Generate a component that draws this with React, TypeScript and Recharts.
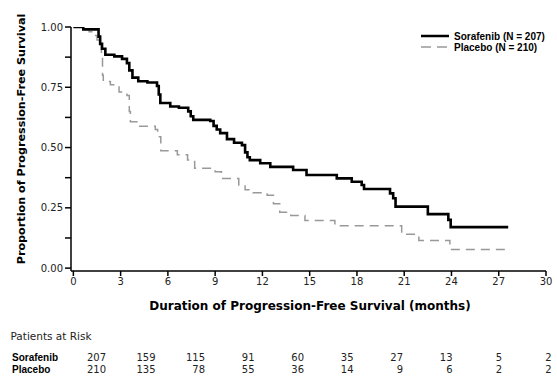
import React from 'react';
import { LineChart, Line, XAxis, YAxis } from 'recharts';

const sorafenibMonths = [0, 0.63, 1.6, 1.7, 1.82, 2.03, 2.6, 3.09, 3.4, 3.55, 3.75, 4.12, 4.7, 5.31, 5.42, 5.52, 6.15, 6.7, 7.29, 7.45, 7.61, 8.69, 8.9, 9.1, 9.32, 9.75, 10.2, 10.7, 10.9, 11.05, 11.2, 11.86, 12.5, 13.95, 14.8, 16.72, 17.67, 18.3, 18.45, 20.1, 20.3, 20.45, 22.5, 23.8, 23.95, 27.6];
const sorafenibSurvival = [1.0, 0.99, 0.96, 0.93, 0.91, 0.885, 0.878, 0.868, 0.85, 0.82, 0.79, 0.775, 0.77, 0.755, 0.72, 0.685, 0.67, 0.665, 0.65, 0.63, 0.615, 0.61, 0.59, 0.575, 0.56, 0.535, 0.52, 0.51, 0.48, 0.46, 0.448, 0.435, 0.42, 0.407, 0.386, 0.372, 0.358, 0.345, 0.328, 0.31, 0.29, 0.255, 0.224, 0.2, 0.17, 0.17];

const placeboMonths = [0, 0.63, 1.0, 1.3, 1.5, 1.78, 1.85, 1.9, 2.35, 2.9, 3.4, 3.55, 3.62, 4.15, 5.2, 5.35, 5.55, 6.6, 7.25, 7.7, 9.0, 9.4, 10.5, 10.9, 11.4, 12.3, 12.7, 13.1, 13.8, 14.7, 16.6, 20.84, 21.93, 23.9, 27.65];
const placeboSurvival = [1.0, 0.99, 0.98, 0.965, 0.946, 0.88, 0.8, 0.774, 0.76, 0.73, 0.716, 0.65, 0.607, 0.588, 0.575, 0.545, 0.487, 0.47, 0.448, 0.414, 0.4, 0.372, 0.345, 0.325, 0.313, 0.302, 0.267, 0.232, 0.218, 0.197, 0.176, 0.14, 0.115, 0.077, 0.077];

const seriesNames = ['Sorafenib (N = 207)', 'Placebo (N = 210)'];
const xTickMonths = [0, 3, 6, 9, 12, 15, 18, 21, 24, 27, 30];
const yTickValues = [0, 0.125, 0.25, 0.375, 0.5, 0.625, 0.75, 0.875, 1];
const yLabeledTicks = [0, 0.25, 0.5, 0.75, 1];
const xTitle = 'Duration of Progression-Free Survival (months)';
const yTitle = 'Proportion of Progression-Free Survival';
const riskTitle = 'Patients at Risk';
const riskRowLabels = ['Sorafenib', 'Placebo'];
const sorafenibAtRisk = [207, 159, 115, 91, 60, 35, 27, 13, 5, 2];
const placeboAtRisk = [210, 135, 78, 55, 36, 14, 9, 6, 2, 2];

const sorafenibData = sorafenibMonths.map((t, i) => ({ t, s: sorafenibSurvival[i] }));
const placeboData = placeboMonths.map((t, i) => ({ t, s: placeboSurvival[i] }));

const tickFont = { fontFamily: 'DejaVu Sans', fontSize: 10, fill: '#222' };
const boldArial = 'Liberation Sans, Arial, sans-serif';

const colRight = (k: number) => 106 + 49.5 * k;

export default function App() {
  return (
    <div style={{ position: 'absolute', left: 0, top: 0, width: 557, height: 382, background: '#fff' }}>
      <LineChart width={557} height={382} margin={{ top: 27, right: 11, bottom: 80, left: 0 }}>
        <XAxis
          type="number"
          dataKey="t"
          domain={[-0.15, 30]}
          ticks={xTickMonths}
          allowDataOverflow
          tick={tickFont}
          tickLine={{ stroke: '#000', strokeWidth: 1.5 }}
          axisLine={{ stroke: '#000', strokeWidth: 1.5 }}
          tickSize={5}
          height={31}
          label={{
            content: () => (
              <text x={310} y={310} textAnchor="middle" fontFamily="DejaVu Sans" fontWeight="bold" fontSize={12} fill="#000">{xTitle}</text>
            ),
          }}
        />
        <YAxis
          type="number"
          dataKey="s"
          domain={[-0.012, 1]}
          ticks={yTickValues}
          allowDataOverflow
          interval={0}
          width={71}
          tick={tickFont}
          tickFormatter={(v: number) => (yLabeledTicks.includes(v) ? v.toFixed(2) : '')}
          tickLine={{ stroke: '#000', strokeWidth: 1.5 }}
          axisLine={{ stroke: '#000', strokeWidth: 1.5 }}
          tickSize={6}
          label={{
            content: () => (
              <text x={25} y={139} transform="rotate(-90 25 139)" textAnchor="middle" fontFamily="DejaVu Sans" fontWeight="bold" fontSize={11.2} fill="#000">{yTitle}</text>
            ),
          }}
        />
        <Line data={placeboData} dataKey="s" type="stepAfter" stroke="#999" strokeWidth={1.5} strokeDasharray="9 6" dot={false} isAnimationActive={false} name={seriesNames[1]} />
        <Line data={sorafenibData} dataKey="s" type="stepAfter" stroke="#000" strokeWidth={2.6} dot={false} isAnimationActive={false} name={seriesNames[0]} />
      </LineChart>
      <svg width={140} height={26} style={{ position: 'absolute', left: 418, top: 28 }}>
        <line x1={3} x2={31} y1={8} y2={8} stroke="#000" strokeWidth={2.5} />
        <text x={36} y={11.5} fontFamily={boldArial} fontWeight="bold" fontSize={10} fill="#000">{seriesNames[0]}</text>
        <line x1={3} x2={31} y1={19} y2={19} stroke="#999" strokeWidth={1.5} strokeDasharray="10 6" />
        <text x={36} y={22.5} fontFamily={boldArial} fontWeight="bold" fontSize={10} fill="#000">{seriesNames[1]}</text>
      </svg>
      <svg width={557} height={60} style={{ position: 'absolute', left: 0, top: 322 }}>
        <text x={10.5} y={18} fontFamily="DejaVu Sans" fontSize={10.5} fill="#222">{riskTitle}</text>
        <text x={12} y={38.5} fontFamily={boldArial} fontWeight="bold" fontSize={10} fill="#000">{riskRowLabels[0]}</text>
        <text x={12} y={51} fontFamily={boldArial} fontWeight="bold" fontSize={10} fill="#000">{riskRowLabels[1]}</text>
        {sorafenibAtRisk.map((n, k) => (
          <text key={'s' + k} x={colRight(k)} y={38.5} textAnchor="end" fontFamily="DejaVu Sans" fontSize={10} fill="#222">{n}</text>
        ))}
        {placeboAtRisk.map((n, k) => (
          <text key={'p' + k} x={colRight(k)} y={51} textAnchor="end" fontFamily="DejaVu Sans" fontSize={10} fill="#222">{n}</text>
        ))}
      </svg>
    </div>
  );
}
